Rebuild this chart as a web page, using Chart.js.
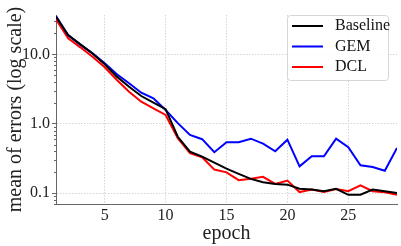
<!DOCTYPE html>
<html lang="en">
<head>
    <meta charset="UTF-8">
    <title>Mean of errors per epoch</title>
    <script src="https://cdn.jsdelivr.net/npm/chart.js@4.4.1/dist/chart.umd.min.js"></script>
    <style>
        html, body {
            margin: 0;
            padding: 0;
            background: white;
        }
        #wrap {
            width: 401px;
            height: 246px;
        }
    </style>
</head>
<body>
    <div id="wrap"><canvas id="chart" width="401" height="246"></canvas></div>

    <script>
        const epochs = [1, 2, 3, 4, 5, 6, 7, 8, 9, 10, 11, 12, 13, 14, 15, 16, 17, 18, 19, 20, 21, 22, 23, 24, 25, 26, 27, 28, 29];
        const baseline = [34.8, 18.9, 13.9, 10.3, 7.2, 4.77, 3.42, 2.51, 2.01, 1.62, 0.65, 0.397, 0.336, 0.275, 0.226, 0.19, 0.161, 0.144, 0.136, 0.133, 0.116, 0.113, 0.107, 0.116, 0.095, 0.095, 0.113, 0.107, 0.101];
        const gem = [35.5, 18.7, 13.8, 10.3, 7.42, 5.15, 3.83, 2.8, 2.33, 1.58, 1.02, 0.69, 0.6, 0.39, 0.542, 0.542, 0.61, 0.517, 0.402, 0.59, 0.244, 0.34, 0.34, 0.61, 0.459, 0.253, 0.239, 0.211, 0.449];
        const dcl = [31.9, 17.0, 12.6, 9.2, 6.5, 4.27, 2.9, 2.08, 1.67, 1.34, 0.62, 0.377, 0.33, 0.219, 0.2, 0.154, 0.162, 0.172, 0.136, 0.152, 0.104, 0.113, 0.104, 0.115, 0.107, 0.13, 0.107, 0.103, 0.095];
        const xTicks = [5, 10, 15, 20, 25];
        const yTicks = [0.1, 1, 10];

        const serif = "'Liberation Serif', 'Times New Roman', serif";

        function pts(values) {
            return values.map((v, i) => ({ x: epochs[i], y: v }));
        }

        // minor log ticks on the y axis + legend box drawn on top
        const extras = {
            id: 'extras',
            afterDraw(chart) {
                const ctx = chart.ctx;
                const y = chart.scales.y;
                const area = chart.chartArea;
                ctx.save();
                ctx.setLineDash([]);
                ctx.strokeStyle = '#666';
                ctx.lineWidth = 1;
                for (let p = -2; p <= 1; p++) {
                    for (let m = 2; m <= 9; m++) {
                        const v = m * Math.pow(10, p);
                        if (v < y.min || v > y.max) continue;
                        const py = Math.round(y.getPixelForValue(v)) + 0.5;
                        ctx.beginPath();
                        ctx.moveTo(area.left - 2, py);
                        ctx.lineTo(area.left, py);
                        ctx.stroke();
                    }
                }

                // legend
                const bx = area.right - 110, by = area.top, bw = 101, bh = 65;
                ctx.fillStyle = 'rgba(255,255,255,0.85)';
                ctx.strokeStyle = '#d6d6d6';
                ctx.beginPath();
                ctx.roundRect(bx + 0.5, by + 0.5, bw, bh, 3);
                ctx.fill();
                ctx.stroke();
                ctx.font = '16px ' + serif;
                ctx.textBaseline = 'middle';
                chart.data.datasets.forEach((ds, i) => {
                    const ry = by + 11 + i * 20.5;
                    ctx.strokeStyle = ds.borderColor;
                    ctx.lineWidth = 2;
                    ctx.beginPath();
                    ctx.moveTo(bx + 5, ry);
                    ctx.lineTo(bx + 36, ry);
                    ctx.stroke();
                    ctx.fillStyle = '#111';
                    ctx.fillText(ds.label, bx + 48, ry);
                });
                ctx.restore();
            }
        };

        new Chart(document.getElementById('chart'), {
            type: 'line',
            data: {
                datasets: [
                    { label: 'Baseline', data: pts(baseline), borderColor: '#000000' },
                    { label: 'GEM', data: pts(gem), borderColor: '#0000ff' },
                    { label: 'DCL', data: pts(dcl), borderColor: '#ff0000' }
                ]
            },
            options: {
                responsive: false,
                animation: false,
                layout: { padding: { top: 15, right: 4, left: 0, bottom: 0 } },
                elements: {
                    point: { radius: 0 },
                    line: { borderWidth: 2, tension: 0 }
                },
                plugins: {
                    legend: { display: false },
                    tooltip: { enabled: false }
                },
                scales: {
                    x: {
                        type: 'linear',
                        min: 1,
                        max: 29,
                        afterBuildTicks: s => { s.ticks = xTicks.map(v => ({ value: v })); },
                        afterFit: s => { s.height = 42; },
                        grid: {
                            color: '#d4d4d4',
                            tickLength: 0,
                            tickColor: 'rgba(0,0,0,0)'
                        },
                        border: { display: true, color: '#666', width: 1, dash: [1.5, 1.5] },
                        ticks: {
                            color: '#222',
                            font: { family: serif, size: 16 },
                            padding: 2,
                            maxRotation: 0,
                            callback: v => v
                        },
                        title: {
                            display: true,
                            text: 'epoch',
                            color: '#222',
                            font: { family: serif, size: 20 },
                            padding: { top: 0, bottom: 0 }
                        }
                    },
                    y: {
                        type: 'logarithmic',
                        min: 0.07,
                        max: 36.8,
                        afterBuildTicks: s => { s.ticks = yTicks.map(v => ({ value: v })); },
                        afterFit: s => { s.width = 56; },
                        grid: {
                            color: '#d4d4d4',
                            tickLength: 4,
                            tickColor: '#666',
                            tickBorderDash: []
                        },
                        border: { display: true, color: '#666', width: 1, dash: [1.5, 1.5] },
                        ticks: {
                            color: '#222',
                            font: { family: serif, size: 16 },
                            padding: 2,
                            callback: v => Number(v).toFixed(1)
                        },
                        title: {
                            display: true,
                            text: 'mean of errors (log scale)',
                            color: '#222',
                            font: { family: serif, size: 20 },
                            padding: { top: 4, bottom: 0 }
                        }
                    }
                }
            },
            plugins: [extras]
        });
    </script>
</body>
</html>
